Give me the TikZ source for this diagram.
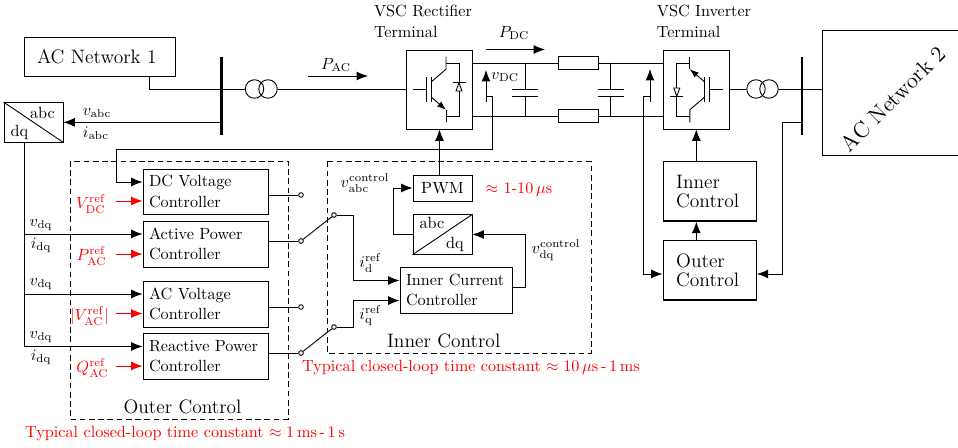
\documentclass[tikz,border=0pt]{standalone}
\usepackage{amsmath,amssymb}
\usepackage{tikz}
\usetikzlibrary{arrows.meta, positioning}
\def\px{0.6173pt}
\tikzset{
  arr/.style={-{Latex[length=7pt,width=5.5pt]}},
  redarr/.style={arr, red, semithick},
  box/.style={draw, rectangle, inner sep=0pt},
  ctrl/.style={box, align=left, text width=113*\px, inner xsep=6*\px, minimum height=46*\px},
  bigctrl/.style={box, thick, font=\large, align=left, text width=67*\px, inner xsep=13*\px, minimum height=59.5*\px},
  conv/.style={box, minimum width=59*\px, minimum height=39.5*\px},
  vsc/.style={box, minimum width=66*\px, minimum height=79*\px},
  res/.style={box, minimum width=40*\px, minimum height=13*\px, fill=white},
  busbar/.style={rectangle, fill=black, inner sep=0pt, minimum width=2.3*\px, minimum height=78*\px},
  wind/.style={draw, circle, inner sep=0pt, minimum size=18.5*\px},
  swpt/.style={draw, circle, inner sep=0pt, minimum size=4.6*\px},
  dashbox/.style={draw, dash pattern=on 3.5pt off 2.2pt},
  igbt/.pic={
    \draw (-26.5,0) -- (-13.5,0);
    \draw (-13.5,-12.7) -- (-13.5,12.7);
    \draw (-7.8,-12.7) -- (-7.8,12.7);
    \draw (6.5,-32.8) -- (6.5,-20.3) -- (-7.8,-8);
    \draw (6.5,32.8) -- (6.5,20.3);
    \draw[-{Latex[length=5.5pt,width=4pt]}] (-7.8,8) -- (6.5,20.3);
    \draw (6.5,-26.5) -- (19.5,-26.5) -- (19.5,26.5) -- (6.5,26.5);
    \draw (13,-6.8) -- (26,-6.8);
    \draw[fill=white] (19.5,-6.8) -- (16.5,1.5) -- (22.5,1.5) -- cycle;
  }
}

\begin{document}
\begin{tikzpicture}[x=\px, y=-\px, line width=0.55pt, every node/.style={inner sep=0pt}]
  \useasboundingbox (0,0) rectangle (958,448);

  % Define nodes
  \node[box, font=\large, align=left, text width=125*\px, inner xsep=13*\px, minimum height=39*\px] (net1) at (99.5,56.5) {AC Network 1};
  \node[busbar] (bus1) at (221.5,96) {};
  \node[wind] (t1a) at (254.5,89) {};
  \node[wind] (t1b) at (268,89) {};
  \node[conv] (cvt1) at (33.5,122.3) {};
  \node (cvt1abc) at (42.5,113) {abc};
  \node (cvt1dq) at (19.5,132) {dq};
  %--
  \node[vsc] (rect) at (439.5,89.5) {};
  \node[vsc] (inv) at (696.3,89.5) {};
  \node[align=left] (rectlbl) at (423,21.5) {VSC Rectifier\\[1pt]Terminal};
  \node[align=left] (invlbl) at (704,21.5) {VSC Inverter\\[1pt]Terminal};
  \pic at (rect.center) {igbt};
  \pic[rotate=180] at (inv.center) {igbt};
  %--
  \node[res] (r1) at (578,63) {};
  \node[res] (r2) at (578,116) {};
  \node[wind] (t2a) at (756,89) {};
  \node[wind] (t2b) at (769,89) {};
  \node[busbar] (bus2) at (802,96) {};
  \node[box, minimum width=138*\px, minimum height=125*\px] (net2) at (891,92.5) {};
  \node[rotate=45, font=\fontsize{13.8}{16}\selectfont] (net2lbl) at (893,99) {AC Network 2};
  %--
  \node[bigctrl] (innerbox) at (709.7,191.3) {Inner\\[-2pt]Control};
  \node[bigctrl] (outerbox) at (709.7,270.3) {Outer\\[-2pt]Control};
  %--
  \node[ctrl, minimum height=45*\px] (dcv) at (205.5,191.5) {DC Voltage\\[0.5pt]Controller};
  \node[ctrl] (apc) at (205.5,244) {Active Power\\[0.5pt]Controller};
  \node[ctrl] (acv) at (205.5,304) {AC Voltage\\[0.5pt]Controller};
  \node[ctrl] (rpc) at (205.5,356) {Reactive Power\\[0.5pt]Controller};
  \node[ctrl, text width=100*\px, minimum height=46*\px] (icc) at (456,290.3) {Inner Current\\[0.5pt]Controller};
  \node[box, minimum width=59*\px, minimum height=26*\px] (pwm) at (442.5,188) {PWM};
  \node[conv] (cvt2) at (442.5,234.5) {};
  \node (cvt2abc) at (432,223) {abc};
  \node (cvt2dq) at (455,244) {dq};
  %--
  \node[swpt] (s1) at (301,195) {};
  \node[swpt] (s2) at (301,241) {};
  \node[swpt] (s3) at (301,307) {};
  \node[swpt] (s4) at (301,353) {};
  \node[swpt] (s5) at (334,215) {};
  \node[swpt] (s6) at (334,327) {};
  %--
  \coordinate (tapdc) at (486,96);
  \coordinate (tapinv) at (650,96);
  \coordinate (bustap1) at (221.5,122.3);
  \coordinate (bustap2) at (802,122.3);
  \coordinate (dq1) at (24,234);
  \coordinate (dq2) at (24,294);
  \coordinate (dq3) at (24,346.5);
  \coordinate (fbdc) at (116,182);
  \coordinate (refdc) at (116,201);
  \coordinate (refap) at (116,254);
  \coordinate (refac) at (116,313.5);
  \coordinate (refrp) at (116,366);
  \coordinate (pacs) at (308,76);
  \coordinate (pace) at (368,76);
  \coordinate (pdcs) at (486,49.5);
  \coordinate (pdce) at (545,49.5);
  \coordinate (sensd) at (486,102);
  \coordinate (sensu) at (486,70);
  \coordinate (sensd2) at (650,102);
  \coordinate (sensu2) at (650,69);
  \coordinate (capa) at (525,89.5);
  \coordinate (capb) at (525,96);
  \coordinate (capc) at (610.7,89.5);
  \coordinate (capd) at (610.7,96);

  % Labels
  \node (vabc) at (97,113) {$v_\mathrm{abc}$};
  \node (iabc) at (96,133) {$i_\mathrm{abc}$};
  \node (pac) at (336,65) {$P_\mathrm{AC}$};
  \node (pdc) at (514,33) {$P_\mathrm{DC}$};
  \node (vdc) at (505,77) {$v_\mathrm{DC}$};
  \node (vdq1) at (41,225) {$v_\mathrm{dq}$};
  \node (idq1) at (41,245) {$i_\mathrm{dq}$};
  \node (vdq2) at (41,284) {$v_\mathrm{dq}$};
  \node (vdq3) at (41,337) {$v_\mathrm{dq}$};
  \node (idq3) at (41,357) {$i_\mathrm{dq}$};
  \node[red] (vdcref) at (91,204) {$V_\mathrm{DC}^\mathrm{ref}$};
  \node[red] (pacref) at (91.5,256) {$P_\mathrm{AC}^\mathrm{ref}$};
  \node[red] (vacref) at (89.5,316) {$|V_\mathrm{AC}^\mathrm{ref}|$};
  \node[red] (qacref) at (92.5,368) {$Q_\mathrm{AC}^\mathrm{ref}$};
  \node (vabcctl) at (365,183) {$v_\mathrm{abc}^\mathrm{control}$};
  \node (vdqctl) at (556,250) {$v_\mathrm{dq}^\mathrm{control}$};
  \node (idref) at (370.5,263) {$i_\mathrm{d}^\mathrm{ref}$};
  \node (iqref) at (370.5,316) {$i_\mathrm{q}^\mathrm{ref}$};
  \node[red] (pwmtime) at (519,190) {$\approx$ 1-10\,$\mu$s};
  \node[font=\large] (innerlbl) at (443.7,341) {Inner Control};
  \node[font=\large] (outerlbl) at (182.5,406.5) {Outer Control};
  \node[red] (innertime) at (471,368) {Typical closed-loop time constant $\approx 10\,\mu$s\,-\,1\,ms};
  \node[red] (outertime) at (185,434) {Typical closed-loop time constant $\approx 1\,$ms\,-\,1\,s};

  % Dashed groups
  \draw[dashbox] (70,161) rectangle (288,419);
  \draw[dashbox] (327,161.5) rectangle (591,353);

  % Connect the nodes
  \draw (net1.south -| 149,0) |- (bus1 |- t1a);
  \draw (bus1 |- t1a) -- (t1a);
  \draw (t1b) -- (rect.west |- t1b);
  \draw (cvt1.north west) -- (cvt1.south east);
  \draw (cvt2.south west) -- (cvt2.north east);
  \draw[arr] (bustap1) -- (cvt1.east);
  \draw (cvt1.south -| dq3) -- (dq3);
  \draw[arr] (dq1) -- (dq1 -| apc.west);
  \draw[arr] (dq2) -- (dq2 -| acv.west);
  \draw[arr] (dq3) -- (dq3 -| rpc.west);
  %--
  \draw[redarr] (refdc) -- (refdc -| dcv.west);
  \draw[redarr] (refap) -- (refap -| apc.west);
  \draw[redarr] (refac) -- (refac -| acv.west);
  \draw[redarr] (refrp) -- (refrp -| rpc.west);
  %--
  \draw (s1 -| dcv.east) -- (s1);
  \draw (s2 -| apc.east) -- (s2);
  \draw (s3 -| acv.east) -- (s3);
  \draw (s4 -| rpc.east) -- (s4);
  \draw (s2) -- (s5);
  \draw (s4) -- (s6);
  \draw[arr] (s5) -- (353.5,215) |- (icc.west |- 0,280.5);
  \draw[arr] (s6) -- (353.5,327) |- (icc.west |- 0,300.6);
  \draw[arr] (icc.east |- 0,287) -- (525,287) |- (cvt2.east);
  \draw[arr] (cvt2.west) -- (393,234.5) |- (pwm.west);
  \draw[arr] (pwm.north -| rect.south) -- (rect.south);
  %--
  \draw[arr] (sensd) -- (sensu);
  \draw[arr] (tapdc) -- (492.5,96) -- (492.5,149) -| (fbdc) -- (fbdc -| dcv.west);
  \draw[arr] (sensd2) -- (sensu2);
  \draw[arr] (tapinv) -- (643.7,96) |- (outerbox.west |- 0,274);
  \draw[arr] (bustap2) -- (782.3,122.3) |- (outerbox.east |- 0,274);
  \draw[arr] (innerbox.north -| inv.south) -- (inv.south);
  \draw[arr] (outerbox.north -| inv.south) -- (innerbox.south -| inv.south);
  %--
  \draw[arr] (pacs) -- (pace);
  \draw[arr] (pdcs) -- (pdce);
  \draw (rect.east |- r1) -- (r1);
  \draw (r1) -- (inv.west |- r1);
  \draw (rect.east |- r2) -- (r2);
  \draw (r2) -- (inv.west |- r2);
  \draw (capa |- r1) -- (capa);
  \draw (capb) -- (capb |- r2);
  \draw (capc |- r1) -- (capc);
  \draw (capd) -- (capd |- r2);
  \draw ([xshift=-13*\px]capa) -- ([xshift=13*\px]capa);
  \draw ([xshift=-13*\px]capb) -- ([xshift=13*\px]capb);
  \draw ([xshift=-13*\px]capc) -- ([xshift=13*\px]capc);
  \draw ([xshift=-13*\px]capd) -- ([xshift=13*\px]capd);
  %--
  \draw (inv.east |- t2a) -- (t2a);
  \draw (t2b) -- (bus2 |- t2b);
  \draw (bus2 |- t2b) -- (net2.west |- t2b);
\end{tikzpicture}
\end{document}
